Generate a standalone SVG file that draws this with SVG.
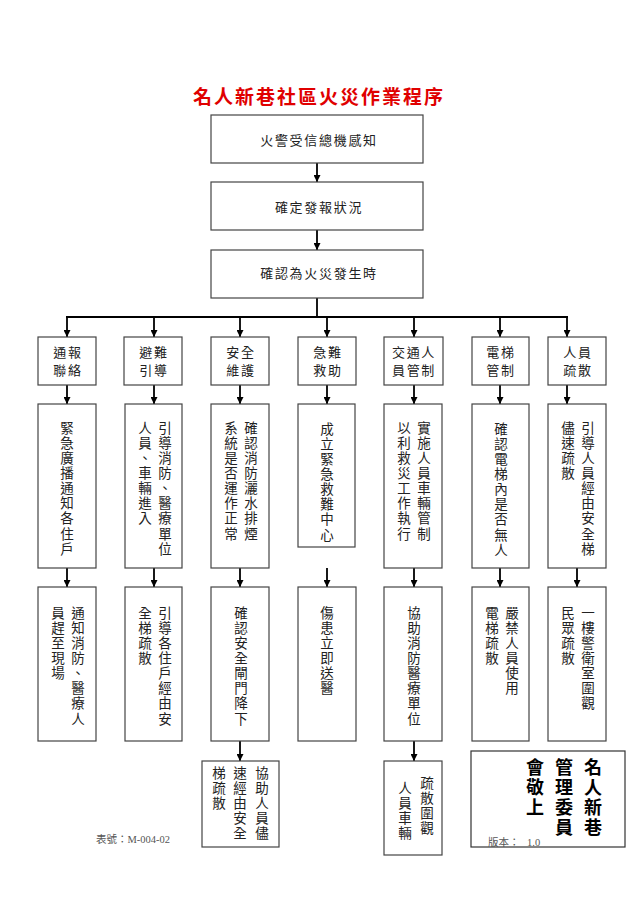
<svg xmlns="http://www.w3.org/2000/svg" width="636" height="900" viewBox="0 0 636 900">
<style>
.bg{fill:#fff}
.box{fill:#fff;stroke:#444;stroke-width:1.2}
.t{font-family:"Noto Sans CJK TC","Noto Sans CJK SC",sans-serif;font-size:13px;letter-spacing:1.7px;fill:#222;text-anchor:middle}
.v{font-family:"Noto Sans CJK TC","Noto Sans CJK SC",sans-serif;font-size:13.5px;letter-spacing:1.6px;fill:#222;writing-mode:vertical-rl}
.sig{font-family:"Noto Sans CJK TC","Noto Sans CJK SC",sans-serif;font-size:18px;font-weight:700;letter-spacing:2px;fill:#000;writing-mode:vertical-rl}
.title{font-family:"Noto Sans CJK TC","Noto Sans CJK SC",sans-serif;font-size:19px;font-weight:700;letter-spacing:2px;fill:#e00000;text-anchor:middle}
.small{font-family:"Liberation Serif","Noto Sans CJK TC",serif;font-size:10.5px;fill:#555}
.ln{stroke:#000;stroke-width:1.8;fill:none}
.ar{stroke:#000;stroke-width:1.8;fill:none;marker-end:url(#ah)}
</style>
<defs>
<marker id="ah" markerUnits="userSpaceOnUse" markerWidth="8" markerHeight="7" refX="7" refY="3.5" orient="auto" viewBox="0 0 7 7">
<path d="M0,0 L7,3.5 L0,7 z" fill="#000"/>
</marker>
</defs>
<rect class="bg" x="0" y="0" width="636" height="900"/>
<text class="title" x="319" y="104">名人新巷社區火災作業程序</text>

<g id="connectors">
<line class="ar" x1="317" y1="163" x2="317" y2="182"/>
<line class="ar" x1="317" y1="230" x2="317" y2="250"/>
<line class="ln" x1="317" y1="298" x2="317" y2="317"/>
<line class="ln" x1="66" y1="317" x2="568" y2="317"/>
<line class="ar" x1="67" y1="317" x2="67" y2="337"/>
<line class="ar" x1="154" y1="317" x2="154" y2="337"/>
<line class="ar" x1="240" y1="317" x2="240" y2="337"/>
<line class="ar" x1="327" y1="317" x2="327" y2="337"/>
<line class="ar" x1="414" y1="317" x2="414" y2="337"/>
<line class="ar" x1="500" y1="317" x2="500" y2="337"/>
<line class="ar" x1="567" y1="317" x2="567" y2="337"/>
<line class="ar" x1="67" y1="385" x2="67" y2="404"/>
<line class="ar" x1="154" y1="385" x2="154" y2="404"/>
<line class="ar" x1="240" y1="385" x2="240" y2="404"/>
<line class="ar" x1="327" y1="385" x2="327" y2="404"/>
<line class="ar" x1="414" y1="385" x2="414" y2="404"/>
<line class="ar" x1="500" y1="385" x2="500" y2="404"/>
<line class="ar" x1="567" y1="385" x2="567" y2="404"/>
<line class="ar" x1="67" y1="568" x2="67" y2="587"/>
<line class="ar" x1="154" y1="568" x2="154" y2="587"/>
<line class="ar" x1="240" y1="568" x2="240" y2="587"/>
<line class="ar" x1="327" y1="568" x2="327" y2="587"/>
<line class="ar" x1="414" y1="568" x2="414" y2="587"/>
<line class="ar" x1="500" y1="568" x2="500" y2="587"/>
<line class="ar" x1="577" y1="568" x2="577" y2="587"/>
<line class="ar" x1="240" y1="741" x2="240" y2="761"/>
<line class="ar" x1="414" y1="741" x2="414" y2="761"/>
</g>

<g id="n1"><rect class="box" x="211" y="115" width="212" height="48"/><text class="t" x="319" y="145">火警受信總機感知</text></g>
<g id="n2"><rect class="box" x="211" y="182" width="212" height="48"/><text class="t" x="319" y="212">確定發報狀況</text></g>
<g id="n3"><rect class="box" x="211" y="250" width="212" height="48"/><text class="t" x="319" y="278">確認為火災發生時</text></g>

<g id="c1"><rect class="box" x="38" y="337" width="58" height="48"/><text class="t" x="68" y="357">通報</text><text class="t" x="68" y="375">聯絡</text></g>
<g id="c2"><rect class="box" x="124" y="337" width="58" height="48"/><text class="t" x="154" y="357">避難</text><text class="t" x="154" y="375">引導</text></g>
<g id="c3"><rect class="box" x="211" y="337" width="58" height="48"/><text class="t" x="241" y="357">安全</text><text class="t" x="241" y="375">維護</text></g>
<g id="c4"><rect class="box" x="298" y="337" width="58" height="48"/><text class="t" x="328" y="357">急難</text><text class="t" x="328" y="375">救助</text></g>
<g id="c5"><rect class="box" x="384" y="337" width="59" height="48"/><text class="t" x="414" y="357">交通人</text><text class="t" x="414" y="375">員管制</text></g>
<g id="c6"><rect class="box" x="472" y="337" width="57" height="48"/><text class="t" x="501" y="357">電梯</text><text class="t" x="501" y="375">管制</text></g>
<g id="c7"><rect class="box" x="548" y="337" width="58" height="48"/><text class="t" x="578" y="357">人員</text><text class="t" x="578" y="375">疏散</text></g>

<g id="r2a"><rect class="box" x="38" y="404" width="58" height="164"/><text class="v" x="67" y="421">緊急廣播通知各住戶</text></g>
<g id="r2b"><rect class="box" x="125" y="404" width="57" height="164"/><text class="v" x="165" y="421">引導消防、醫療單位</text><text class="v" x="145" y="421">人員、車輛進入</text></g>
<g id="r2c"><rect class="box" x="211" y="404" width="58" height="164"/><text class="v" x="251" y="421">確認消防灑水排煙</text><text class="v" x="231" y="421">系統是否運作正常</text></g>
<g id="r2d"><rect class="box" x="298" y="404" width="57" height="143"/><text class="v" x="327" y="422">成立緊急救難中心</text></g>
<g id="r2e"><rect class="box" x="384" y="404" width="58" height="164"/><text class="v" x="424" y="421">實施人員車輛管制</text><text class="v" x="404" y="421">以利救災工作執行</text></g>
<g id="r2f"><rect class="box" x="472" y="404" width="57" height="164"/><text class="v" x="501" y="422">確認電梯內是否無人</text></g>
<g id="r2g"><rect class="box" x="548" y="404" width="58" height="164"/><text class="v" x="588" y="421">引導人員經由安全梯</text><text class="v" x="568" y="421">儘速疏散</text></g>

<g id="r3a"><rect class="box" x="38" y="587" width="58" height="154"/><text class="v" x="78" y="606">通知消防、醫療人</text><text class="v" x="58" y="606">員趕至現場</text></g>
<g id="r3b"><rect class="box" x="125" y="587" width="57" height="154"/><text class="v" x="165" y="606">引導各住戶經由安</text><text class="v" x="145" y="606">全梯疏散</text></g>
<g id="r3c"><rect class="box" x="211" y="587" width="58" height="154"/><text class="v" x="241" y="606">確認安全閘門降下</text></g>
<g id="r3d"><rect class="box" x="298" y="587" width="58" height="154"/><text class="v" x="327" y="606">傷患立即送醫</text></g>
<g id="r3e"><rect class="box" x="384" y="587" width="58" height="154"/><text class="v" x="414" y="606">協助消防醫療單位</text></g>
<g id="r3f"><rect class="box" x="472" y="587" width="57" height="154"/><text class="v" x="512" y="606">嚴禁人員使用</text><text class="v" x="492" y="606">電梯疏散</text></g>
<g id="r3g"><rect class="box" x="548" y="587" width="58" height="154"/><text class="v" x="588" y="606">一樓警衛室圍觀</text><text class="v" x="568" y="606">民眾疏散</text></g>

<g id="r4c"><rect class="box" x="202" y="761" width="77" height="86"/><text class="v" x="262" y="766">協助人員儘</text><text class="v" x="240" y="766">速經由安全</text><text class="v" x="219" y="766">梯疏散</text></g>
<g id="r4e"><rect class="box" x="384" y="761" width="58" height="94"/><text class="v" x="427" y="776">疏散圍觀</text><text class="v" x="405" y="781">人員車輛</text></g>

<g id="sig"><rect class="box" x="471" y="751" width="154" height="96" style="stroke:#333"/>
<text class="sig" x="593" y="758">名人新巷</text>
<text class="sig" x="564" y="758">管理委員</text>
<text class="sig" x="535" y="758">會敬上</text>
<text class="small" x="488" y="846">版本：</text>
<text class="small" x="527" y="846">1.0</text>
</g>
<text class="small" x="96" y="843">表號：M-004-02</text>
</svg>
